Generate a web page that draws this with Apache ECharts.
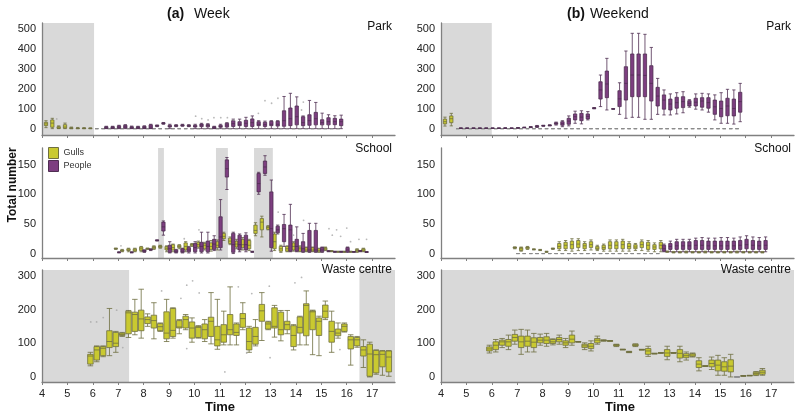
<!DOCTYPE html>
<html><head><meta charset="utf-8">
<script src="https://cdn.jsdelivr.net/npm/echarts@6/dist/echarts.min.js"></script>
<style>html,body{margin:0;padding:0;background:#fff}#c{width:800px;height:417px}</style>
</head><body><div id="c"></div>
<script>
// ---------- tick labels ----------
const hourTicks = [4,5,6,7,8,9,10,11,12,13,14,15,16,17];
const yTicksPark = [0,100,200,300,400,500];
const yTicksSchool = [0,50,100,150];
const yTicksWaste = [0,100,200,300];
const panelNames = ['Park','School','Waste centre'];
const seriesNames = ['Gulls','People'];

// ---------- data: [time (h), min, Q1, median, Q3, max] ----------
const parkWeekGulls = [
 [4.25,5,15,24,32,40],[4.5,0,7,28,44,52],[4.75,0,1,4,10,14],[5,0,2,8,20,28],
 [5.25,0,0,2,5,8],[5.5,0,0,1,3,6],[5.75,0,0,1,3,5],[6,0,0,1,2,4]];
const parkWeekGullsZeroTimes = [6.25,6.5,6.75,7,7.25,7.5,7.75,8,8.25,8.5,8.75,9,9.25,9.5,9.75,10,10.25,10.5,10.75,11,11.25,11.5,11.75,12,12.25,12.5,12.75,13,13.25,13.5,13.75,14,14.25,14.5,14.75,15,15.25,15.5,15.75];
const parkWeekPeople = [
 [6.5,0,1,5,10,12],[6.75,0,1,5,10,12],[7,0,2,7,14,17],[7.25,0,3,9,17,20],
 [7.5,0,1,5,10,13],[7.75,0,1,5,10,12],[8,0,1,6,12,14],[8.25,0,1,8,19,22],
 [8.5,10,12,14,17,18],[8.75,22,25,27,29,31],[9,0,8,12,17,22],[9.25,10,12,15,17,20],
 [9.5,12,14,17,19,22],[9.75,10,12,14,17,20],[10,0,8,12,17,22],[10.25,0,10,17,23,27],
 [10.5,0,9,15,21,25],[10.75,0,1,5,10,12],[11,0,7,11,17,22],[11.25,0,8,18,27,30],
 [11.5,0,11,25,40,48],[11.75,0,15,22,35,48],[12,0,11,27,42,57],[12.25,0,11,30,49,64],
 [12.5,0,15,22,35,40],[12.75,0,11,20,32,38],[13,0,15,22,37,40],[13.25,0,13,22,37,40],
 [13.5,0,12,40,90,162],[13.75,0,15,50,104,178],[14,0,19,60,114,160],[14.25,0,15,30,60,64],
 [14.5,0,17,40,70,142],[14.75,0,19,50,82,132],[15,0,19,30,45,78],[15.25,0,19,35,55,70],
 [15.5,0,20,35,52,65],[15.75,0,15,35,48,68]];
const parkWeekOutliers = [[4.58,49],[10.05,63],[10.29,50],[10.54,44],[10.77,55],[11.04,55],[11.3,55],[11.56,44],[12.52,77],[12.78,141],[13.04,128],[13.29,153],[14.22,94],[14.29,134]];

const parkWeekendGulls = [[4.25,13,24,35,48,58],[4.5,14,30,50,64,77]];
const parkWeekendGullsZeroTimes = [4.75,5,5.25,5.5,5.75,6,6.25,6.5,6.75,7,7.25,7.5,7.75,8,8.25,8.5,8.75,9,9.25,9.5,9.75,10,10.25,10.5,10.75,11,11.25,11.5,11.75,12,12.25,12.5,12.75,13,13.25,13.5,13.75,14,14.25,14.5,14.75,15,15.25,15.5,15.75];
const parkWeekendPeople = [
 [4.75,1,2,2,3,3],[5,1,2,2,3,3],[5.25,1,2,2,3,3],[5.5,1,2,2,3,3],[5.75,1,2,2,3,3],
 [6,1,2,2,3,3],[6.25,1,2,2,3,3],[6.5,1,2,3,3,4],[6.75,1,2,2,3,3],[7,2,3,4,4,5],
 [7.25,4,5,6,7,7],[7.5,5,6,8,9,10],[7.75,6,8,11,14,16],[8,12,13,15,16,17],
 [8.25,14,15,17,18,19],[8.5,18,22,26,30,33],[8.75,10,17,25,35,40],[9,14,22,38,52,64],
 [9.25,27,44,60,74,88],[9.5,24,40,58,77,90],[9.75,44,49,62,74,86],[10,100,101,103,105,106],
 [10.25,111,149,195,236,270],[10.5,94,156,225,290,354],[10.75,98,99,99,100,100],[11,72,111,150,191,231],
 [11.25,52,144,228,312,391],[11.5,57,161,270,376,480],[11.75,57,161,270,376,480],[12,47,161,268,376,475],
 [12.25,47,139,228,317,409],[12.5,72,114,164,208,253],[12.75,69,98,144,170,195],[13,69,94,124,149,175],
 [13.25,74,103,131,158,181],[13.5,80,106,136,161,186],[13.75,108,114,128,141,146],[14,98,114,133,153,175],
 [14.25,94,108,139,156,178],[14.5,83,103,131,156,175],[14.75,44,72,110,144,170],[15,27,60,101,139,181],
 [15.25,27,65,114,153,198],[15.5,23,64,101,149,195],[15.75,35,83,136,183,228]];
const parkWeekendOutliers = [];

const schoolWeekGulls = [
 [7,7,8,8,9,9],[7.25,3,4,5,6,7],[7.5,3,5,6,8,9],[7.75,3,4,6,8,9],[8,3,5,8,11,12],
 [8.25,7,8,8,9,9],[8.5,7,8,10,12,13],[8.75,9,10,12,13,14],[9,3,6,9,12,13],[9.25,3,6,10,15,16],
 [9.5,8,10,12,14,15],[9.75,3,6,12,18,20],[10,12,13,15,16,17],[10.25,9,11,15,19,21],[10.5,6,8,14,17,19],
 [10.75,4,7,12,18,22],[11,6,10,14,20,23],[11.25,22,25,29,34,36],[11.5,15,17,21,26,28],[11.75,8,11,16,21,24],
 [12,6,10,15,24,27],[12.25,5,8,14,22,24],[12.5,30,34,39,48,52],[12.75,28,40,53,59,63],[13,40,41,44,46,47],
 [13.25,5,8,20,33,36],[13.5,2,4,8,12,14],[13.75,3,4,8,12,13],[14,4,6,12,18,20],[14.25,3,4,8,11,13],
 [14.5,3,4,6,10,11],[14.75,3,4,6,10,11],[15,2,3,5,8,9],[15.25,5,6,8,10,11],[15.5,3,4,4,4,5],
 [15.75,2,3,3,3,4],[16,2,3,3,3,4],[16.25,2,3,3,3,4],[16.5,2,3,5,7,8],[16.75,3,4,6,8,9]];
const schoolWeekPeople = [
 [7,1,2,2,2,3],[7.5,1,2,2,2,3],[8,2,3,4,6,6],[8.25,5,6,7,7,8],[8.5,21,22,22,23,23],
 [8.75,31,38,45,53,55],[9,1,2,8,14,20],[9.25,1,2,3,6,7],[9.5,1,2,4,8,9],[9.75,1,3,6,10,12],
 [10,1,3,10,17,20],[10.25,1,3,12,19,36],[10.5,1,3,12,21,36],[10.75,5,7,16,24,30],[11,6,10,28,62,91],
 [11.25,108,129,143,158,162],[11.5,0,2,15,34,36],[11.75,3,6,15,31,33],[12,3,6,15,31,35],[12.25,2,3,3,3,4],
 [12.5,100,104,118,135,137],[12.75,132,135,146,156,165],[13,4,10,42,104,124],[13.25,33,35,40,46,48],
 [13.5,12,20,42,49,66],[13.75,3,4,40,48,83],[14,3,4,12,24,45],[14.25,2,3,8,20,34],[14.5,2,3,6,39,51],
 [14.75,2,3,6,39,51],[15,2,3,6,10,11],[15.25,3,4,4,4,5],[15.5,2,3,3,3,4],[15.75,2,3,3,3,4],
 [16,2,3,6,10,11],[16.25,2,3,3,3,3],[16.5,3,4,4,5,5],[16.75,2,2,3,3,3]];
const schoolWeekOutliers = [[7.11,13],[9.6,25],[10.18,40],[13.3,70],[13.9,31],[14.3,56],[15.3,42],[15.43,31],[15.6,40],[15.76,29],[16.0,43],[16.15,20],[16.48,24],[16.78,24]];

const schoolWeekendGulls = [
 [7,8,9,10,11,11],[7.25,4,5,8,10,11],[7.5,7,8,10,11,12],[7.75,6,7,7,7,8],[8,5,6,6,6,7],
 [8.25,2,3,3,3,4],[8.5,7,8,8,9,9],[8.75,5,8,12,17,20],[9,5,8,14,19,22],[9.25,4,8,15,21,25],
 [9.5,5,10,16,22,25],[9.75,5,8,13,17,20],[10,6,10,15,20,23],[10.25,5,7,9,12,14],[10.5,4,7,10,14,16],
 [10.75,4,8,14,20,23],[11,4,8,14,20,23],[11.25,4,8,15,21,24],[11.5,4,8,12,17,20],[11.75,5,8,11,15,17],
 [12,5,10,15,20,23],[12.25,4,7,14,19,22],[12.5,3,7,11,15,18],[12.75,3,8,14,19,22],[13,2,3,3,4,4],
 [13.25,1,2,2,3,3],[13.5,1,2,2,3,3],[13.75,1,2,3,3,4],[14,1,2,2,3,3],[14.25,1,2,2,3,3],
 [14.5,1,2,3,3,4],[14.75,1,2,2,3,3],[15,1,2,2,3,3],[15.25,1,2,2,3,3],[15.5,1,2,2,3,3],
 [15.75,1,2,3,3,4],[16,1,2,2,3,3],[16.25,1,2,2,3,3],[16.5,1,2,2,3,3],[16.75,1,2,2,3,3]];
const schoolWeekendPeopleZeroTimes = [7,7.25,7.5,7.75,8,8.25,8.5,8.75,9,9.25,9.5,9.75,10,10.25,10.5,10.75,11,11.25,11.5,11.75,12,12.25,12.5];
const schoolWeekendPeople = [
 [12.75,3,4,8,14,16],[13,3,7,12,17,21],[13.25,3,7,13,20,24],[13.5,3,7,13,20,24],[13.75,3,7,13,20,24],
 [14,3,7,14,22,26],[14.25,3,7,14,22,27],[14.5,3,7,13,21,26],[14.75,3,7,13,21,26],[15,3,7,13,21,27],
 [15.25,3,7,13,21,27],[15.5,3,7,13,21,26],[15.75,3,7,14,22,28],[16,3,8,15,24,30],[16.25,3,7,14,22,28],
 [16.5,3,7,13,21,27],[16.75,3,7,14,22,28]];
const schoolWeekendOutliers = [];

const wasteWeekGulls = [
 [6,33,38,62,67,73],[6.25,45,50,80,90,92],[6.5,60,63,85,90,92],[6.75,63,87,105,137,203],
 [7,73,90,100,132,135],[7.25,120,123,126,130,132],[7.5,117,128,190,195,197],[7.75,125,135,185,192,230],
 [8,115,137,172,198,260],[8.25,150,158,170,178,187],[8.5,113,145,167,183,220],[8.75,135,137,149,158,160],
 [9,105,113,130,193,230],[9.25,115,120,138,203,205],[9.5,128,145,148,167,170],[9.75,140,145,170,180,185],
 [10,103,115,145,163,175],[10.25,115,117,147,150,152],[10.5,105,113,140,157,170],[10.75,98,120,165,177,250],
 [11,82,92,110,150,230],[11.25,95,103,125,155,195],[11.5,95,125,140,185,267],[11.75,95,123,132,157,160],
 [12,140,147,173,188,220],[12.25,73,80,105,145,150],[12.5,92,97,120,147,170],[12.75,108,165,196,215,250],
 [13,140,142,157,163,165],[13.25,118,145,150,205,212],[13.5,107,125,140,192,197],[13.75,128,140,155,165,197],
 [14,80,90,123,152,155],[14.25,95,130,147,178,180],[14.5,95,122,212,217,255],[14.75,66,140,193,196,198],
 [15,63,123,165,175,180],[15.25,170,175,195,213,225],[15.5,73,103,135,165,195],[15.75,115,122,130,142,160],
 [16,133,135,150,157,160],[16.25,35,83,110,120,125],[16.5,88,92,110,117,120],[16.75,28,62,80,90,110],
 [17,0,2,68,97,103],[17.25,8,12,66,79,80],[17.5,5,30,67,77,78],[17.75,2,15,59,77,78]];
const wasteWeekOutliers = [[5.92,163],[6.15,163],[6.41,176],[6.94,198],[7.18,87],[8.71,255],[9.47,233],[9.7,272],[9.93,285],[9.7,84],[10.19,249],[11.2,15],[11.73,267],[12.06,71],[12.26,247],[12.95,269],[12.98,57],[13.96,279],[14.22,295],[15.73,81]];

const wasteWeekendGulls = [
 [6,71,77,83,89,94],[6.25,74,81,94,104,111],[6.5,87,94,104,109,114],[6.75,81,91,104,111,124],
 [7,97,106,117,126,139],[7.25,67,87,104,121,141],[7.5,74,91,106,121,139],[7.75,74,87,103,116,129],
 [8,94,101,109,117,127],[8.25,91,99,109,119,129],[8.5,95,99,104,111,113],[8.75,97,104,111,117,124],
 [9,87,94,101,107,114],[9.25,94,101,112,124,136],[9.5,103,104,104,105,105],[9.75,81,87,92,97,101],
 [10,77,84,91,99,107],[10.25,97,101,109,114,121],[10.5,106,107,108,109,110],[10.75,106,106,107,107,108],
 [11,90,92,94,96,97],[11.25,80,81,81,82,82],[11.5,72,73,74,75,76],[11.75,90,92,94,97,98],
 [12,80,80,81,81,82],[12.25,61,67,77,84,91],[12.5,68,69,69,70,70],[12.75,70,71,71,72,72],
 [13,51,61,71,81,91],[13.25,70,71,71,72,72],[13.5,45,56,70,81,91],[13.75,50,57,63,69,74],
 [14,59,61,65,69,71],[14.25,18,28,38,48,57],[14.5,31,32,32,33,33],[14.75,22,30,40,50,59],
 [15,5,18,35,50,64],[15.25,5,17,30,45,57],[15.5,0,15,32,51,67],[15.75,0,0,0,0,0],
 [16,2,3,3,3,4],[16.25,3,4,4,4,5],[16.5,4,6,10,14,16],[16.75,5,8,14,20,25]];
const wasteWeekendOutliers = [];

// shaded periods (h)
const parkWeekShade = [[4,6.05]];
const parkWeekendShade = [[4,6.0]];
const schoolWeekShade = [[8.57,8.8],[10.85,11.32],[12.35,13.09]];
const schoolWeekendShade = [];
const wasteWeekShade = [[4,7.43],[16.5,17.9]];

// ---------- styling / layout ----------
const FONT = 'Liberation Sans, Arial, Helvetica, sans-serif';
const GULL = '#c9c930', GULL_EDGE = '#6f6f40';
const PEOPLE = '#7d3e80', PEOPLE_EDGE = '#4f2e52';
const ZERO_EDGE = '#8c8c8c';
const SHADE = '#d9d9d9';
const AXIS = '#808080';
const GULL_SHIFT = -3/32, PEOPLE_SHIFT = 1/32;
const X_MIN = 4, X_MAX = 17.9;

const cols = [{left: 42, width: 353}, {left: 441, width: 353}];
const rows = [
  {top: 23, height: 112, min: -32, max: 532, ticks: yTicksPark, labelY: 27, boxW: 3.3},
  {top: 148, height: 110, min: -7.5, max: 178, ticks: yTicksSchool, labelY: 149, boxW: 3.3},
  {top: 270, height: 112, min: -15, max: 317, ticks: yTicksWaste, labelY: 270, boxW: 5.5}
];

function zeroRows(times){ return times.map(t => [t,0,0,0,0,0]); }

const panels = [
  {row:0, col:0, gulls: parkWeekGulls.concat(zeroRows(parkWeekGullsZeroTimes)), people: parkWeekPeople, out: parkWeekOutliers, shade: parkWeekShade},
  {row:0, col:1, gulls: parkWeekendGulls.concat(zeroRows(parkWeekendGullsZeroTimes)), people: parkWeekendPeople, out: parkWeekendOutliers, shade: parkWeekendShade},
  {row:1, col:0, gulls: schoolWeekGulls, people: schoolWeekPeople, out: schoolWeekOutliers, shade: schoolWeekShade},
  {row:1, col:1, gulls: schoolWeekendGulls, people: zeroRows(schoolWeekendPeopleZeroTimes).concat(schoolWeekendPeople), out: schoolWeekendOutliers, shade: schoolWeekendShade},
  {row:2, col:0, gulls: wasteWeekGulls, people: [], out: wasteWeekOutliers, shade: wasteWeekShade},
  {row:2, col:1, gulls: wasteWeekendGulls, people: [], out: wasteWeekendOutliers, shade: [], bg: true}
];

function boxData(list, shift){
  return list.map(r => {
    const v = [r[0] + shift, r[1], r[2], r[3], r[4], r[5]];
    return r[5] === 0 ? {value: v, itemStyle: {borderColor: ZERO_EDGE}} : v;
  });
}

const grid = [], xAxis = [], yAxis = [], series = [], graphic = [];
panels.forEach((p, i) => {
  const R = rows[p.row], C = cols[p.col];
  grid.push({left: C.left, top: R.top, width: C.width, height: R.height,
    show: !!p.bg, backgroundColor: SHADE, borderWidth: 0});
  const isBottom = p.row === 2;
  xAxis.push({type:'value', gridIndex:i, min:X_MIN, max:X_MAX, z:5,
    axisLine:{show:true, onZero:false, lineStyle:{color:AXIS, width:1.3}},
    axisTick:{show:true, length:3, customValues:hourTicks, lineStyle:{color:AXIS}},
    axisLabel:{show:isBottom, customValues:hourTicks, fontSize:11, color:'#222', fontFamily:FONT, margin:6},
    splitLine:{show:false}});
  xAxis.push({type:'value', gridIndex:i, min:X_MIN, max:X_MAX, show:false, splitLine:{show:false}});
  yAxis.push({type:'value', gridIndex:i, min:R.min, max:R.max, z:5,
    axisLine:{show:true, lineStyle:{color:AXIS, width:1.3}},
    axisTick:{show:false},
    axisLabel:{customValues:R.ticks, fontSize:11, color:'#222', fontFamily:FONT, margin:6},
    splitLine:{show:false}});
  const gs = {type:'boxplot', name:seriesNames[0], xAxisIndex:2*i, yAxisIndex:i, silent:true,
    boxWidth:[R.boxW, R.boxW], encode:{x:0, y:[1,2,3,4,5]},
    itemStyle:{color:GULL, borderColor:GULL_EDGE, borderWidth:0.8},
    data: boxData(p.gulls, GULL_SHIFT)};
  if (p.shade.length) {
    gs.markArea = {silent:true, z:1, itemStyle:{color:SHADE}, data: p.shade.map(s => [{xAxis:s[0]},{xAxis:s[1]}])};
  }
  series.push(gs);
  if (p.people.length) {
    series.push({type:'boxplot', name:seriesNames[1], xAxisIndex:2*i+1, yAxisIndex:i, silent:true,
      boxWidth:[R.boxW, R.boxW], encode:{x:0, y:[1,2,3,4,5]},
      itemStyle:{color:PEOPLE, borderColor:PEOPLE_EDGE, borderWidth:0.8},
      data: boxData(p.people, PEOPLE_SHIFT)});
  }
  if (p.out.length) {
    series.push({type:'scatter', name:'outliers', xAxisIndex:2*i, yAxisIndex:i, silent:true,
      symbolSize:1.8, itemStyle:{color:'#a8a8a8'}, data:p.out});
  }
  graphic.push({type:'text', x: C.left + C.width - 3, y: R.labelY, z:100,
    style:{text: panelNames[p.row], font:'12px ' + FONT, fill:'#111', align:'right', verticalAlign:'middle'}});
});

graphic.push({type:'text', x:13, y:185, rotation:Math.PI/2, z:100,
  style:{text:'Total number', font:'bold 12px ' + FONT, fill:'#111', align:'center', verticalAlign:'middle'}});
graphic.push({type:'text', x:220, y:407, z:100,
  style:{text:'Time', font:'bold 13px ' + FONT, fill:'#111', align:'center', verticalAlign:'middle'}});
graphic.push({type:'text', x:620, y:407, z:100,
  style:{text:'Time', font:'bold 13px ' + FONT, fill:'#111', align:'center', verticalAlign:'middle'}});

const richT = {b:{fontWeight:'bold', fontSize:14, fontFamily:FONT, color:'#111'}, n:{fontWeight:'normal', fontSize:14, fontFamily:FONT, color:'#111'}};
const option = {
  animation:false,
  backgroundColor:'#fff',
  title:[
    {text:'{b|(a)}  {n|Week}', left:167, top:5, padding:0, textStyle:{fontWeight:'normal', rich:richT}},
    {text:'{b|(b)} {n|Weekend}', left:567, top:5, padding:0, textStyle:{fontWeight:'normal', rich:richT}}
  ],
  legend:{
    data:[
      {name:seriesNames[0], itemStyle:{color:GULL, borderColor:GULL_EDGE, borderWidth:1}},
      {name:seriesNames[1], itemStyle:{color:PEOPLE, borderColor:PEOPLE_EDGE, borderWidth:1}}
    ],
    orient:'vertical', left:48, top:147, padding:0,
    itemWidth:10, itemHeight:11, itemGap:1, icon:'rect',
    textStyle:{fontSize:9, color:'#333', fontFamily:FONT}},
  grid, xAxis, yAxis, series, graphic
};
const chart = echarts.init(document.getElementById('c'));
chart.setOption(option);
</script>
</body></html>
